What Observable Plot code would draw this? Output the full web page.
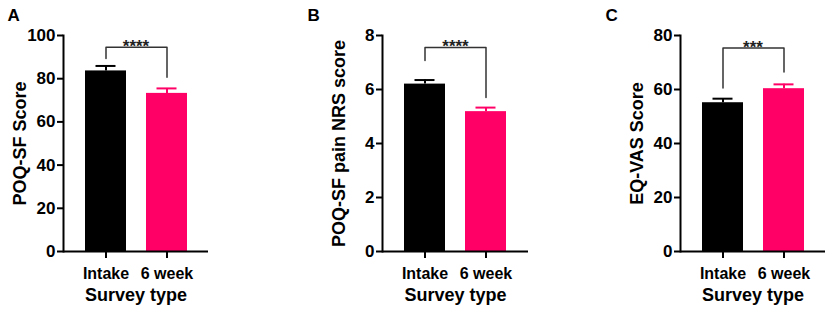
<!DOCTYPE html>
<html>
<head>
<meta charset="utf-8">
<script src="https://cdn.jsdelivr.net/npm/d3@7"></script>
<script src="https://cdn.jsdelivr.net/npm/@observablehq/plot@0.6"></script>
<style>
  html, body { margin: 0; padding: 0; background: #fff; }
  #wrap { position: relative; width: 829px; height: 311px; overflow: hidden; }
  .panel { position: absolute; top: 0; }
  .panel svg { overflow: visible; }
</style>
</head>
<body>
<div id="wrap"></div>
<script>
const categories = ["Intake", "6 week"];
const barColors = ["#000000", "#FF0066"];
const xTitle = "Survey type";

// Panel A
const poqMeans = [83.6, 73.2];
const poqErr = [2.3, 2.3];
const poqTicks = [0, 20, 40, 60, 80, 100];
const poqBracket = [89.3, 94.6, 80.7];
const poqStars = "****";

// Panel B
const nrsMeans = [6.2, 5.18];
const nrsErr = [0.15, 0.15];
const nrsTicks = [0, 2, 4, 6, 8];
const nrsBracket = [7.07, 7.56, 5.7];
const nrsStars = "****";

// Panel C
const vasMeans = [55.1, 60.3];
const vasErr = [1.5, 1.6];
const vasTicks = [0, 20, 40, 60, 80];
const vasBracket = [60.6, 75.4, 66.5];
const vasStars = "***";

const panels = [
  {letter: "A", ylabel: "POQ-SF Score", means: poqMeans, err: poqErr, ticks: poqTicks, bracket: poqBracket, stars: poqStars, left: 0, axisEnd: 208, letterDx: -56},
  {letter: "B", ylabel: "POQ-SF pain NRS score", means: nrsMeans, err: nrsErr, ticks: nrsTicks, bracket: nrsBracket, stars: nrsStars, left: 319, axisEnd: 528, letterDx: -75},
  {letter: "C", ylabel: "EQ-VAS Score", means: vasMeans, err: vasErr, ticks: vasTicks, bracket: vasBracket, stars: vasStars, left: 617, axisEnd: 825, letterDx: -75}
];

const wrap = document.getElementById("wrap");
const mL = 63, mT = 35, mB = 60, mR = 4;

for (const p of panels) {
  const rows = categories.map((c, i) => ({cat: c, mean: p.means[i], top: p.means[i] + p.err[i], color: barColors[i]}));
  const br = [
    {cat: categories[0], v: p.bracket[0]},
    {cat: categories[0], v: p.bracket[1]},
    {cat: categories[1], v: p.bracket[1]},
    {cat: categories[1], v: p.bracket[2]}
  ];
  const ymax = p.ticks[p.ticks.length - 1];
  const chart = Plot.plot({
    width: p.axisEnd - p.left + mR,
    height: 311,
    marginLeft: mL,
    marginRight: mR,
    marginTop: mT,
    marginBottom: mB,
    style: {fontFamily: "'Liberation Sans', Arial, sans-serif", fontSize: "16px", fontWeight: "bold", color: "#000", background: "transparent", overflow: "visible"},
    x: {type: "band", domain: categories, paddingInner: 0.333, paddingOuter: 0.345, label: null},
    y: {domain: [0, ymax], label: null},
    color: {type: "identity"},
    marks: [
      Plot.barY(rows, {x: "cat", y: "mean", fill: "color"}),
      Plot.ruleX(rows, {x: "cat", y1: "mean", y2: "top", stroke: "color", strokeWidth: 2}),
      Plot.tickY(rows, {x: "cat", y: "top", stroke: "color", strokeWidth: 2, insetLeft: 10.5, insetRight: 10.5}),
      Plot.line(br, {x: "cat", y: "v", stroke: "#333", strokeWidth: 1.5}),
      Plot.text([p.stars], {y: () => p.bracket[1], text: d => d, lineAnchor: "bottom", dy: 5, fontSize: 17, fill: "#222"}),
      Plot.axisY({ticks: p.ticks, tickSize: 6, tickPadding: 2, strokeWidth: 2, fontSize: 17, tickFormat: d => String(d), label: null}),
      Plot.axisX({tickSize: 7, tickPadding: 9, strokeWidth: 2, label: null}),
      Plot.frame({anchor: "left", strokeWidth: 2}),
      Plot.ruleY([0], {strokeWidth: 2}),
      Plot.text([p.ylabel], {frameAnchor: "left", textAnchor: "middle", lineAnchor: "middle", rotate: -90, dx: -43, fontSize: 18, text: d => d}),
      Plot.text([xTitle], {frameAnchor: "bottom", textAnchor: "middle", dy: 49, fontSize: 18, text: d => d}),
      Plot.text([p.letter], {frameAnchor: "top-left", dx: p.letterDx, dy: -27, fontSize: 17, textAnchor: "start", lineAnchor: "top", text: d => d})
    ]
  });
  const div = document.createElement("div");
  div.className = "panel";
  div.style.left = p.left + "px";
  div.appendChild(chart);
  wrap.appendChild(div);
}
</script>
</body>
</html>
